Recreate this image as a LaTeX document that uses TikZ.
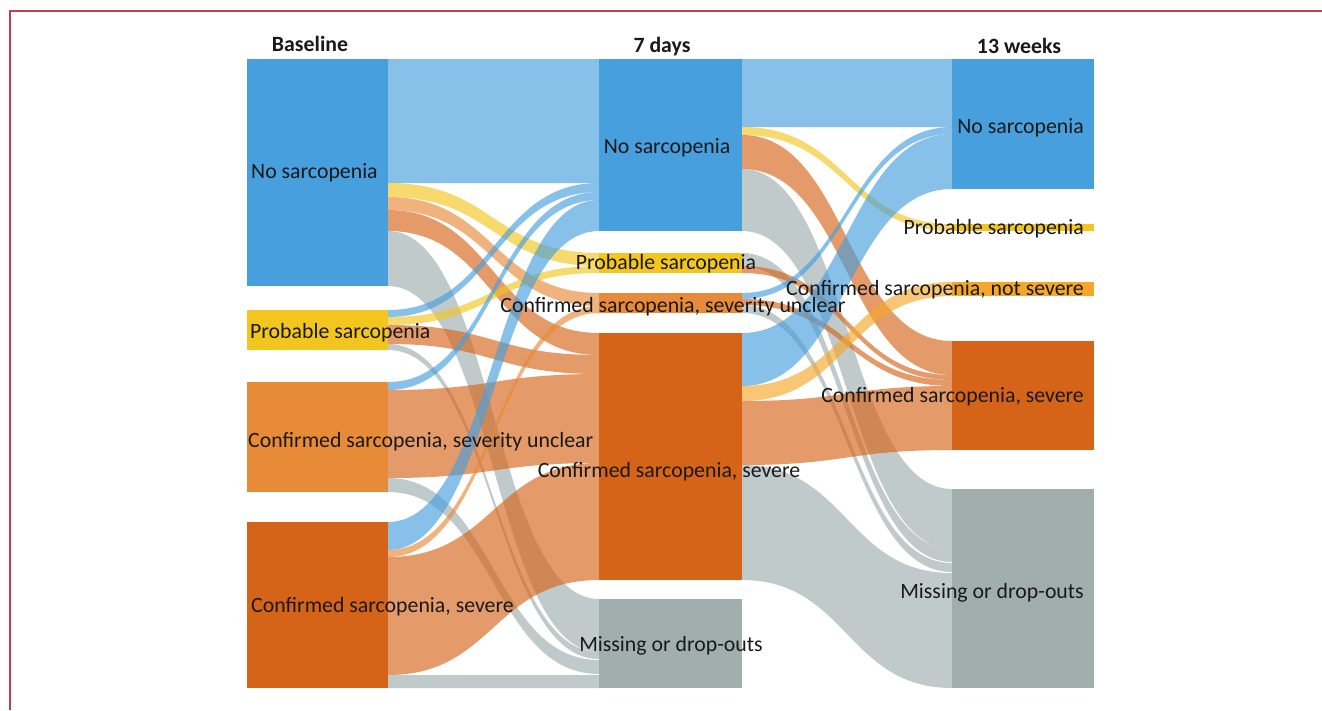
\documentclass[tikz,border=0pt]{standalone}
\usepackage{fontspec}
\setmainfont{Carlito}
\usepackage{tikz}
\usepackage{xcolor}
\definecolor{nosar}{HTML}{479FDE}
\definecolor{probsar}{HTML}{F2C61F}
\definecolor{uncsar}{HTML}{E88B38}
\definecolor{sevsar}{HTML}{D66418}
\definecolor{notsev}{HTML}{F5A72B}
\definecolor{dropgray}{HTML}{A0AEAE}
\definecolor{framered}{HTML}{C23D52}

\begin{document}
\begin{tikzpicture}[x=1pt,y=-1pt,
		lbl/.style={inner sep=0pt,text=black!90,text height=15pt,text depth=4.5pt,font=\fontsize{21.8}{26}\selectfont},
		hdr/.style={lbl,font=\fontsize{21.8}{26}\selectfont\bfseries},
		band/.style={fill=#1,fill opacity=.65}]
			\useasboundingbox (0,0) rectangle (1322,710);
			\draw[framered,line width=2pt] (10,710) -- (10,11) -- (1322,11);
			\foreach \sa/\sb/\ta/\tb/\col in {59/183/59/183/nosar,183/197/253/266/probsar,197/210/293/306/uncsar,210/231/333/355/sevsar,231/286/599/652/dropgray,
				310/317/183/192/nosar,317/325/266/273/probsar,325/344/355/374/sevsar,344/350/652/659/dropgray,
				382/390/192/200/nosar,390/478/374/463/sevsar,478/492/660/674/dropgray,
				522/550/200/231/nosar,550/557/306/313/uncsar,557/675/463/580/sevsar,675/688/675/688/dropgray}
			\fill[band=\col] (388,\sa) .. controls (493.5,\sa) and (493.5,\ta) .. (599,\ta) -- (599,\tb) .. controls (493.5,\tb) and (493.5,\sb) .. (388,\sb) -- cycle;
			\foreach \sa/\sb/\ta/\tb/\col in {59/127/59/127/nosar,127/135/224/231/probsar,135/169/341/375/sevsar,169/231/489/549/dropgray,
				253/266/549/562/dropgray,266/273/375/380/sevsar,
				293/299/127/134/nosar,299/305/380/386/sevsar,305/313/563/572/dropgray,
				333/386/134/189/nosar,386/401/282/296/notsev,401/465/386/450/sevsar,465/580/573/688/dropgray}
			\fill[band=\col] (742,\sa) .. controls (847,\sa) and (847,\ta) .. (952,\ta) -- (952,\tb) .. controls (847,\tb) and (847,\sb) .. (742,\sb) -- cycle;
			\foreach \xa/\xb/\ya/\yb/\col in {247/388/59/286/nosar,247/388/310/350/probsar,247/388/382/492/uncsar,247/388/522/688/sevsar,
				599/742/59/231/nosar,599/742/253/273/probsar,599/742/293/313/uncsar,599/742/333/580/sevsar,599/742/599/688/dropgray,
				952/1094/59/189/nosar,952/1094/224/231/probsar,952/1094/282/296/notsev,952/1094/341/450/sevsar,952/1094/489/688/dropgray}
			\fill[fill=\col] (\xa,\ya) rectangle (\xb,\yb);
			\node[hdr] (h-base) at (310,46) {Baseline};
			\node[hdr] (h-day) at (662,47) {7 days};
			\node[hdr] (h-week) at (1019,48) {13 weeks};
			\node[lbl,anchor=west] (b-no) at (251,173) {No sarcopenia};
			\node[lbl,anchor=west] (b-prob) at (250,333) {Probable sarcopenia};
			\node[lbl,anchor=west] (b-unc) at (248,442) {Confirmed sarcopenia, severity unclear};
			\node[lbl,anchor=west] (b-sev) at (251,607) {Confirmed sarcopenia, severe};
			\node[lbl] (d-no) at (667,148) {No sarcopenia};
			\node[lbl] (d-prob) at (666,264) {Probable sarcopenia};
			\node[lbl] (d-unc) at (673,307) {Confirmed sarcopenia, severity unclear};
			\node[lbl] (d-sev) at (669,472) {Confirmed sarcopenia, severe};
			\node[lbl] (d-miss) at (671,646) {Missing or drop-outs};
			\node[lbl,anchor=east] (w-no) at (1084,128) {No sarcopenia};
			\node[lbl,anchor=east] (w-prob) at (1084,229) {Probable sarcopenia};
			\node[lbl,anchor=east] (w-notsev) at (1084,290) {Confirmed sarcopenia, not severe};
			\node[lbl,anchor=east] (w-sev) at (1084,397) {Confirmed sarcopenia, severe};
			\node[lbl,anchor=east] (w-miss) at (1084,593) {Missing or drop-outs};
		\end{tikzpicture}
\end{document}
